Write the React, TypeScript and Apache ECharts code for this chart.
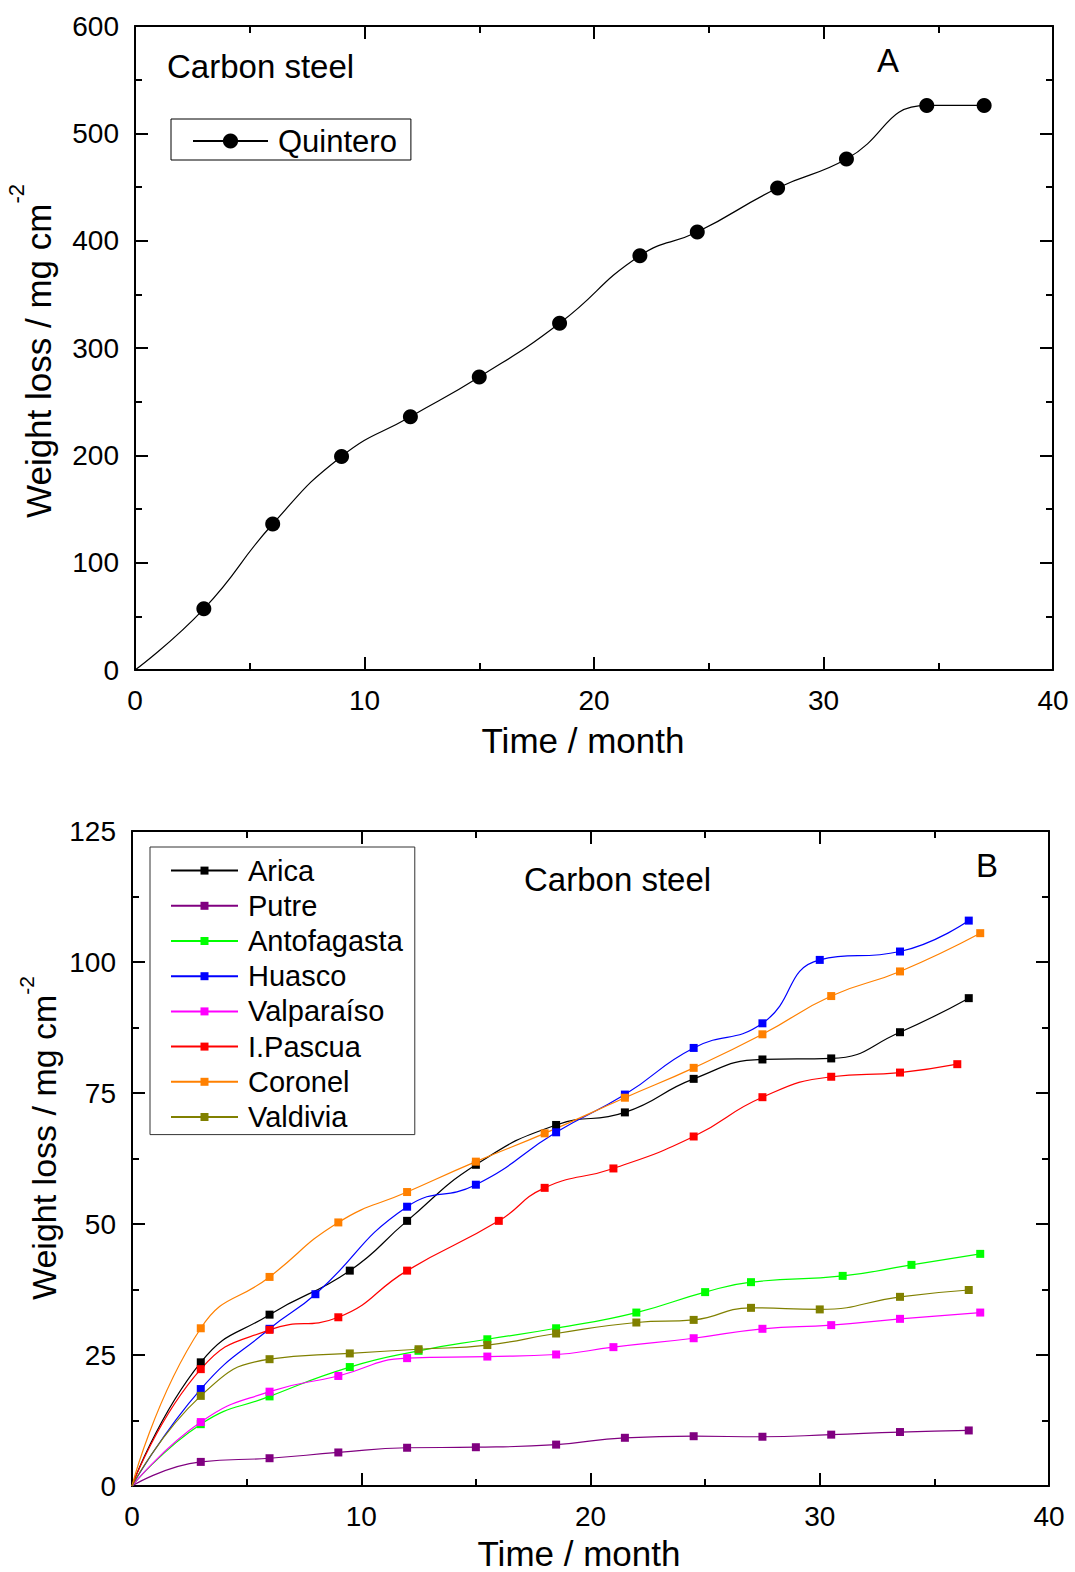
import React, { useEffect, useRef } from 'react';
import * as echarts from 'echarts';

const FONT = '"Liberation Sans", Arial, Helvetica, sans-serif';

// ---------- Panel A (Quintero) ----------
const quinteroMonths = [0, 3, 6, 9, 12, 15, 18.5, 22, 24.5, 28, 31, 34.5, 37];
const quinteroLoss = [0, 57, 136, 199, 236, 273, 323, 386, 408, 449, 476, 526, 526];

// ---------- Panel B ----------
const aricaMonths = [0, 3, 6, 9.5, 12, 15, 18.5, 21.5, 24.5, 27.5, 30.5, 33.5, 36.5];
const aricaLoss = [0, 23.6, 32.7, 41.1, 50.6, 61.3, 68.9, 71.3, 77.7, 81.4, 81.6, 86.6, 93.1];

const putreMonths = [0, 3, 6, 9, 12, 15, 18.5, 21.5, 24.5, 27.5, 30.5, 33.5, 36.5];
const putreLoss = [0, 4.6, 5.3, 6.4, 7.3, 7.4, 7.9, 9.2, 9.5, 9.4, 9.8, 10.3, 10.6];

const antofagastaMonths = [0, 3, 6, 9.5, 12.5, 15.5, 18.5, 22, 25, 27, 31, 34, 37];
const antofagastaLoss = [0, 11.8, 17.1, 22.7, 25.8, 28.0, 30.1, 33.1, 37.0, 38.9, 40.1, 42.2, 44.3];

const huascoMonths = [0, 3, 6, 8, 12, 15, 18.5, 21.5, 24.5, 27.5, 30, 33.5, 36.5];
const huascoLoss = [0, 18.5, 30.0, 36.6, 53.3, 57.5, 67.5, 74.7, 83.6, 88.3, 100.4, 102.0, 107.9];

const valparaisoMonths = [0, 3, 6, 9, 12, 15.5, 18.5, 21, 24.5, 27.5, 30.5, 33.5, 37];
const valparaisoLoss = [0, 12.2, 18.0, 21.0, 24.4, 24.7, 25.1, 26.5, 28.2, 30.0, 30.7, 31.9, 33.1];

const pascuaMonths = [0, 3, 6, 9, 12, 16, 18, 21, 24.5, 27.5, 30.5, 33.5, 36];
const pascuaLoss = [0, 22.3, 29.8, 32.2, 41.1, 50.6, 56.9, 60.6, 66.7, 74.2, 78.1, 78.9, 80.5];

const coronelMonths = [0, 3, 6, 9, 12, 15, 18, 21.5, 24.5, 27.5, 30.5, 33.5, 37];
const coronelLoss = [0, 30.1, 39.9, 50.3, 56.1, 61.9, 67.3, 74.1, 79.8, 86.2, 93.5, 98.2, 105.5];

const valdiviaMonths = [0, 3, 6, 9.5, 12.5, 15.5, 18.5, 22, 24.5, 27, 30, 33.5, 36.5];
const valdiviaLoss = [0, 17.2, 24.2, 25.3, 26.1, 26.9, 29.1, 31.2, 31.7, 34.0, 33.7, 36.1, 37.4];

const panelBNames = ['Arica', 'Putre', 'Antofagasta', 'Huasco', 'Valparaíso', 'I.Pascua', 'Coronel', 'Valdivia'];
const panelBColors = ['#000000', '#800080', '#00ff00', '#0000ff', '#ff00ff', '#ff0000', '#ff8000', '#808000'];
const panelBMonths = [aricaMonths, putreMonths, antofagastaMonths, huascoMonths, valparaisoMonths, pascuaMonths, coronelMonths, valdiviaMonths];
const panelBLoss = [aricaLoss, putreLoss, antofagastaLoss, huascoLoss, valparaisoLoss, pascuaLoss, coronelLoss, valdiviaLoss];

const timeTitle = 'Time / month';
const lossTitle = 'Weight loss / mg cm{sup|-2}';

const black = '#000000';

function makeXAxes(grid: number, max: number, interval: number) {
  const common = {
    gridIndex: grid,
    type: 'value',
    min: 0,
    max,
    interval,
    axisLine: { show: true, onZero: false, lineStyle: { color: black, width: 2 } },
    axisTick: { show: true, inside: true, length: 13, lineStyle: { color: black, width: 2 } },
    minorTick: { show: true, splitNumber: 2, length: 7, lineStyle: { color: black, width: 2 } },
    splitLine: { show: false },
    minorSplitLine: { show: false },
  };
  return [
    { ...common, position: 'bottom', axisLabel: { show: true, margin: 16, fontSize: 28, fontFamily: FONT, color: black } },
    { ...common, position: 'top', axisLabel: { show: false } },
  ];
}

function makeYAxes(grid: number, max: number, interval: number) {
  const common = {
    gridIndex: grid,
    type: 'value',
    min: 0,
    max,
    interval,
    axisLine: { show: true, onZero: false, lineStyle: { color: black, width: 2 } },
    axisTick: { show: true, inside: true, length: 13, lineStyle: { color: black, width: 2 } },
    minorTick: { show: true, splitNumber: 2, length: 7, lineStyle: { color: black, width: 2 } },
    splitLine: { show: false },
    minorSplitLine: { show: false },
  };
  return [
    { ...common, position: 'left', axisLabel: { show: true, margin: 16, fontSize: 28, fontFamily: FONT, color: black } },
    { ...common, position: 'right', axisLabel: { show: false } },
  ];
}

function pairs(xs: number[], ys: number[]) {
  return xs.map((x, i) => (i === 0 ? { value: [x, ys[i]], symbol: 'none' } : [x, ys[i]]));
}

function textEl(text: string, x: number, y: number, size: number, align = 'left') {
  return {
    type: 'text',
    x,
    y,
    silent: true,
    style: { text, fontSize: size, fontFamily: FONT, fill: black, align, verticalAlign: 'middle' },
  };
}

function yTitle(x: number, y: number, size: number, supSize: number, lift: number) {
  return {
    type: 'text',
    x,
    y,
    rotation: Math.PI / 2,
    silent: true,
    style: {
      text: lossTitle,
      fontSize: size,
      fontFamily: FONT,
      fill: black,
      align: 'center',
      verticalAlign: 'middle',
      rich: {
        sup: { fontSize: supSize, fontFamily: FONT, fill: black, padding: [0, 0, lift * 2, 0] },
      },
    },
  };
}

export default function App() {
  const ref = useRef<HTMLDivElement>(null);

  useEffect(() => {
    if (!ref.current) return;
    const chart = echarts.init(ref.current, undefined, { renderer: 'svg' });

    const seriesB = panelBNames.map((name, i) => ({
      name,
      type: 'line',
      xAxisIndex: 2,
      yAxisIndex: 2,
      data: pairs(panelBMonths[i], panelBLoss[i]),
      smooth: 0.5,
      symbol: 'rect',
      symbolSize: 8,
      color: panelBColors[i],
      itemStyle: { color: panelBColors[i] },
      lineStyle: { color: panelBColors[i], width: 1.2 },
      emphasis: { disabled: true },
    }));

    const option = {
      animation: false,
      backgroundColor: '#ffffff',
      grid: [
        { left: 135, top: 26, width: 918, height: 644 },
        { left: 132, top: 831, width: 917, height: 655 },
      ],
      xAxis: [...makeXAxes(0, 40, 10), ...makeXAxes(1, 40, 10)],
      yAxis: [...makeYAxes(0, 600, 100), ...makeYAxes(1, 125, 25)],
      legend: [
        {
          data: ['Quintero'],
          orient: 'vertical',
          left: 171,
          top: 119,
          padding: [3, 14, 0, 21],
          itemWidth: 75,
          itemHeight: 19,
          itemGap: 0,
          borderColor: black,
          borderWidth: 1,
          selectedMode: false,
          textStyle: { fontSize: 31, fontFamily: FONT, color: black, lineHeight: 38, padding: [0, 0, 0, 5] },
        },
        {
          data: panelBNames,
          orient: 'vertical',
          left: 150,
          top: 847,
          padding: [6, 12, 0, 20],
          itemWidth: 67,
          itemHeight: 10,
          itemGap: 0,
          borderColor: '#333333',
          borderWidth: 1,
          selectedMode: false,
          textStyle: { fontSize: 29, fontFamily: FONT, color: black, lineHeight: 35.2, padding: [0, 0, 0, 5] },
        },
      ],
      series: [
        {
          name: 'Quintero',
          type: 'line',
          xAxisIndex: 0,
          yAxisIndex: 0,
          data: pairs(quinteroMonths, quinteroLoss),
          smooth: 0.5,
          symbol: 'circle',
          symbolSize: 15,
          color: black,
          itemStyle: { color: black },
          lineStyle: { color: black, width: 1.2 },
          emphasis: { disabled: true },
        },
        ...seriesB,
      ],
      graphic: [
        textEl('Carbon steel', 167, 66, 33),
        textEl('A', 888, 60, 33, 'center'),
        textEl(timeTitle, 583, 740, 35, 'center'),
        yTitle(38, 351, 35, 22, 22),
        textEl('Carbon steel', 524, 879, 33),
        textEl('B', 987, 865, 33, 'center'),
        textEl(timeTitle, 579, 1553, 35, 'center'),
        yTitle(44, 1138, 34, 21, 18),
      ],
    };

    chart.setOption(option as any);
    return () => chart.dispose();
  }, []);

  return (
    <div
      ref={ref}
      style={{ position: 'absolute', left: 0, top: 0, width: 1075, height: 1572, background: '#fff' }}
    />
  );
}
